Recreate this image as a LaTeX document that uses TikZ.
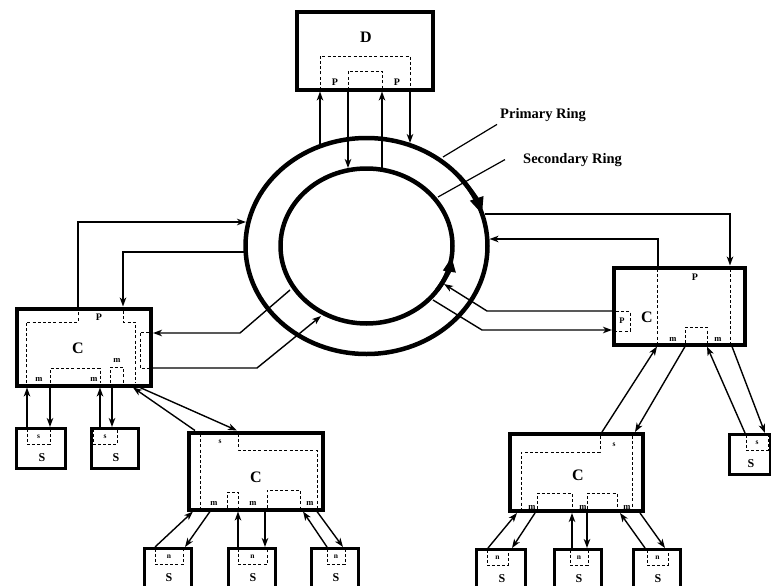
\documentclass[tikz,border=0pt]{standalone}
\usepackage{fontspec}
\setmainfont{Liberation Serif}
\usetikzlibrary{arrows.meta,calc}

\begin{document}
\begin{tikzpicture}[x=1pt,y=-1pt,
  unitbox/.style={draw, line width=4pt, outer sep=2pt, inner sep=0pt, minimum height=77pt},
  sbox/.style={draw, line width=3pt, outer sep=1.5pt, inner sep=0pt, minimum height=40pt},
  port/.style={line width=0.9pt, dash pattern=on 3pt off 2.2pt},
  con/.style={line width=1.4pt, -{Stealth[length=9pt,width=6.5pt,inset=2.5pt]}},
  wire/.style={line width=1.2pt},
  ringline/.style={line width=4.5pt},
  big/.style={font=\bfseries\fontsize{16}{16}\selectfont, inner sep=0pt},
  sl/.style={font=\bfseries\fontsize{12}{12}\selectfont, inner sep=0pt},
  pl/.style={font=\bfseries\fontsize{10}{10}\selectfont, inner sep=0pt},
  ml/.style={font=\bfseries\fontsize{8.5}{8.5}\selectfont, inner sep=0pt},
  tl/.style={font=\bfseries\fontsize{7.5}{7.5}\selectfont, inner sep=0pt},
  ringlab/.style={font=\bfseries\fontsize{14.5}{14.5}\selectfont, inner sep=0pt}]
\useasboundingbox (0,0) rectangle (771,586);
\clip (0,0) rectangle (771,586);

% rings
\coordinate (rc) at (366.5,246);
\draw[ringline] (rc) ellipse[x radius=121, y radius=108];
\draw[ringline] (rc) ellipse[x radius=86, y radius=77.5];
\draw[ringline, -{Triangle[length=17pt,width=13pt]}] (rc) ++(-40:121 and 108) arc[start angle=-40, end angle=-17, x radius=121, y radius=108];
\draw[ringline, -{Triangle[length=15pt,width=12pt]}] (rc) ++(35:86 and 77.5) arc[start angle=35, end angle=8, x radius=86, y radius=77.5];

\coordinate (ot1) at (320,144);
\coordinate (it1) at (348,168);
\coordinate (it2) at (382,167.5);
\coordinate (ot2) at (410,143);
\coordinate (ol1) at (246,222);
\coordinate (ol2) at (243.5,252);
\coordinate (il1) at (290,290);
\coordinate (il2) at (321,316);
\coordinate (or1) at (484.5,214);
\coordinate (or2) at (489.5,239);
\coordinate (ir1) at (444,284);
\coordinate (ir2) at (433,300);
\coordinate (primfoot) at (443,157);
\coordinate (secfoot) at (438,197);

% stations
\node[unitbox, minimum width=136pt] (d) at (365,51) {};
\node[unitbox, minimum width=134pt] (c1) at (84,347) {};
\node[unitbox, minimum width=134pt] (c2) at (256,471) {};
\node[unitbox, minimum width=131pt] (c3) at (679.5,306) {};
\node[unitbox, minimum width=133pt] (c4) at (576.5,472.5) {};

\foreach \nm/\cx/\cy/\w/\lb/\pl/\pr in {s1/41/448.5/49/s/27/50, s2/115/448.5/47/s/93/117,
    s3/168/568.5/47/n/155/183, s4/252/568.5/47/n/238/267, s5/335/568.5/47/n/327/345,
    s6/750/454.5/41/s/746/768, s7/501/569.5/49/n/487/508, s8/578/569.5/47/n/570/588,
    s9/657/569.5/47/n/647/668}
{
  \node[sbox, minimum width=\w pt] (\nm) at (\cx,\cy) {};
  \draw[port] (\pl,\cy-20) rectangle (\pr,\cy-4);
  \node[tl] (\nm port) at ({(\pl+\pr)/2},\cy-12) {\lb};
  \node[sl] (\nm lab) at (\cx+1,\cy+9) {S};
}

% inner ports
\draw[port] (320,90) -- (320,56) -- (410,56) -- (410,90);
\draw[port] (348,90) -- (348,71) -- (382,71) -- (382,90);
\draw[port] (26,383) -- (26,322) -- (78,322) -- (78,311);
\draw[port] (123,311) -- (123,322) -- (135,322) -- (135,383);
\draw[port] (50,383) -- (50,368) -- (100,368) -- (100,383);
\draw[port] (110,383) -- (110,367) -- (123,367) -- (123,383);
\draw[port] (149,332) -- (140,332) -- (140,368) -- (149,368);
\draw[port] (200,434) -- (200,508);
\draw[port] (238,434) -- (238,450) -- (317,450) -- (317,508);
\draw[port] (227,508) -- (227,492) -- (238,492) -- (238,508);
\draw[port] (267,508) -- (267,490) -- (300,490) -- (300,508);
\draw[port] (657,269) -- (657,343);
\draw[port] (730,269) -- (730,343);
\draw[port] (685,343) -- (685,327) -- (707,327) -- (707,343);
\draw[port] (616,311) -- (630,311) -- (630,331) -- (616,331);
\draw[port] (632,436) -- (632,509);
\draw[port] (600,436) -- (600,452) -- (521,452) -- (521,509);
\draw[port] (537,509) -- (537,493) -- (572,493) -- (572,509);
\draw[port] (587,509) -- (587,493) -- (617,493) -- (617,509);

% labels
\node[big] (dlab) at (366,37) {D};
\foreach \px/\py [count=\i] in {78/348, 256/477, 647/317, 578/475}
  \node[big] (clab\i) at (\px,\py) {C};
\foreach \px/\py [count=\i] in {335/82, 397/82, 99/317, 695/277}
  \node[pl] (plab\i) at (\px,\py) {P};
\node[ml] (plab5) at (622,321) {P};
\foreach \px/\py [count=\i] in {117/360, 39/379, 94/379, 214/503, 253/503, 310/503,
    673/339, 718/339, 532/507, 583/507, 627/507}
  \node[ml] (mlab\i) at (\px,\py) {m};
\node[tl] (slab1) at (220,442) {s};
\node[tl] (slab2) at (614,445) {s};

\node[ringlab, anchor=base west] (prim) at (500,118) {Primary Ring};
\node[ringlab, anchor=base west] (sec) at (523,163) {Secondary Ring};
\draw[wire] (primfoot) -- ([xshift=-3pt,yshift=-3pt]prim.south west);
\draw[wire] (secfoot) -- ([xshift=-18pt]sec.west);

% links to the ring
\draw[con] (ot1) -- ([xshift=25pt]d.south west);
\draw[con] ([xshift=53pt]d.south west) -- (it1);
\draw[con] (it2) -- ([xshift=87pt]d.south west);
\draw[con] ([xshift=115pt]d.south west) -- (ot2);
\draw[con] ([xshift=63pt]c1.north west) |- (ol1);
\draw[con] (ol2) -| ([xshift=108pt]c1.north west);
\draw[con] (il1) -- (240,333) -- ([yshift=14pt]c1.east);
\draw[con] ([yshift=-21pt]c1.east) -- (257,368) -- (il2);
\draw[con] (or1) -| ([xshift=118pt]c3.north west);
\draw[con] ([xshift=46pt]c3.north west) |- (or2);
\draw[con] ([yshift=-5pt]c3.west) -- (487,311) -- (ir1);
\draw[con] (ir2) -- (482,330) -- ([yshift=-24pt]c3.west);

% links between stations
\draw[con] ([xshift=12pt]s1.north west) -- ([xshift=12pt]c1.south west);
\draw[con] ([xshift=35pt]c1.south west) -- ([xshift=35pt]s1.north west);
\draw[con] ([xshift=10pt]s2.north west) -- ([xshift=85pt]c1.south west);
\draw[con] ([xshift=97pt]c1.south west) -- ([xshift=22pt]s2.north west);
\draw[con] ([xshift=8pt]c2.north west) -- ([xshift=118pt]c1.south west);
\draw[con] ([xshift=125pt]c1.south west) -- ([xshift=50pt]c2.north west);
\draw[con] ([xshift=12pt]s3.north west) -- ([xshift=6pt]c2.south west);
\draw[con] ([xshift=23pt]c2.south west) -- ([xshift=42pt]s3.north west);
\draw[con] ([xshift=11pt]s4.north west) -- ([xshift=51pt]c2.south west);
\draw[con] ([xshift=78pt]c2.south west) -- ([xshift=38pt]s4.north west);
\draw[con] ([xshift=17pt]s5.north west) -- ([xshift=116pt]c2.south west);
\draw[con] ([xshift=130pt]c2.south west) -- ([xshift=33pt]s5.north west);
\draw[con] ([xshift=94pt]c4.north west) -- ([xshift=45pt]c3.south west);
\draw[con] ([xshift=73pt]c3.south west) -- ([xshift=127pt]c4.north west);
\draw[con] ([xshift=17pt]s6.north west) -- ([xshift=95pt]c3.south west);
\draw[con] ([xshift=120pt]c3.south west) -- ([xshift=37pt]s6.north west);
\draw[con] ([xshift=13pt]s7.north west) -- ([xshift=9pt]c4.south west);
\draw[con] ([xshift=27pt]c4.south west) -- ([xshift=37pt]s7.north west);
\draw[con] ([xshift=19pt]s8.north west) -- ([xshift=64pt]c4.south west);
\draw[con] ([xshift=79pt]c4.south west) -- ([xshift=34pt]s8.north west);
\draw[con] ([xshift=13pt]s9.north west) -- ([xshift=112pt]c4.south west);
\draw[con] ([xshift=132pt]c4.south west) -- ([xshift=33pt]s9.north west);
\end{tikzpicture}
\end{document}
